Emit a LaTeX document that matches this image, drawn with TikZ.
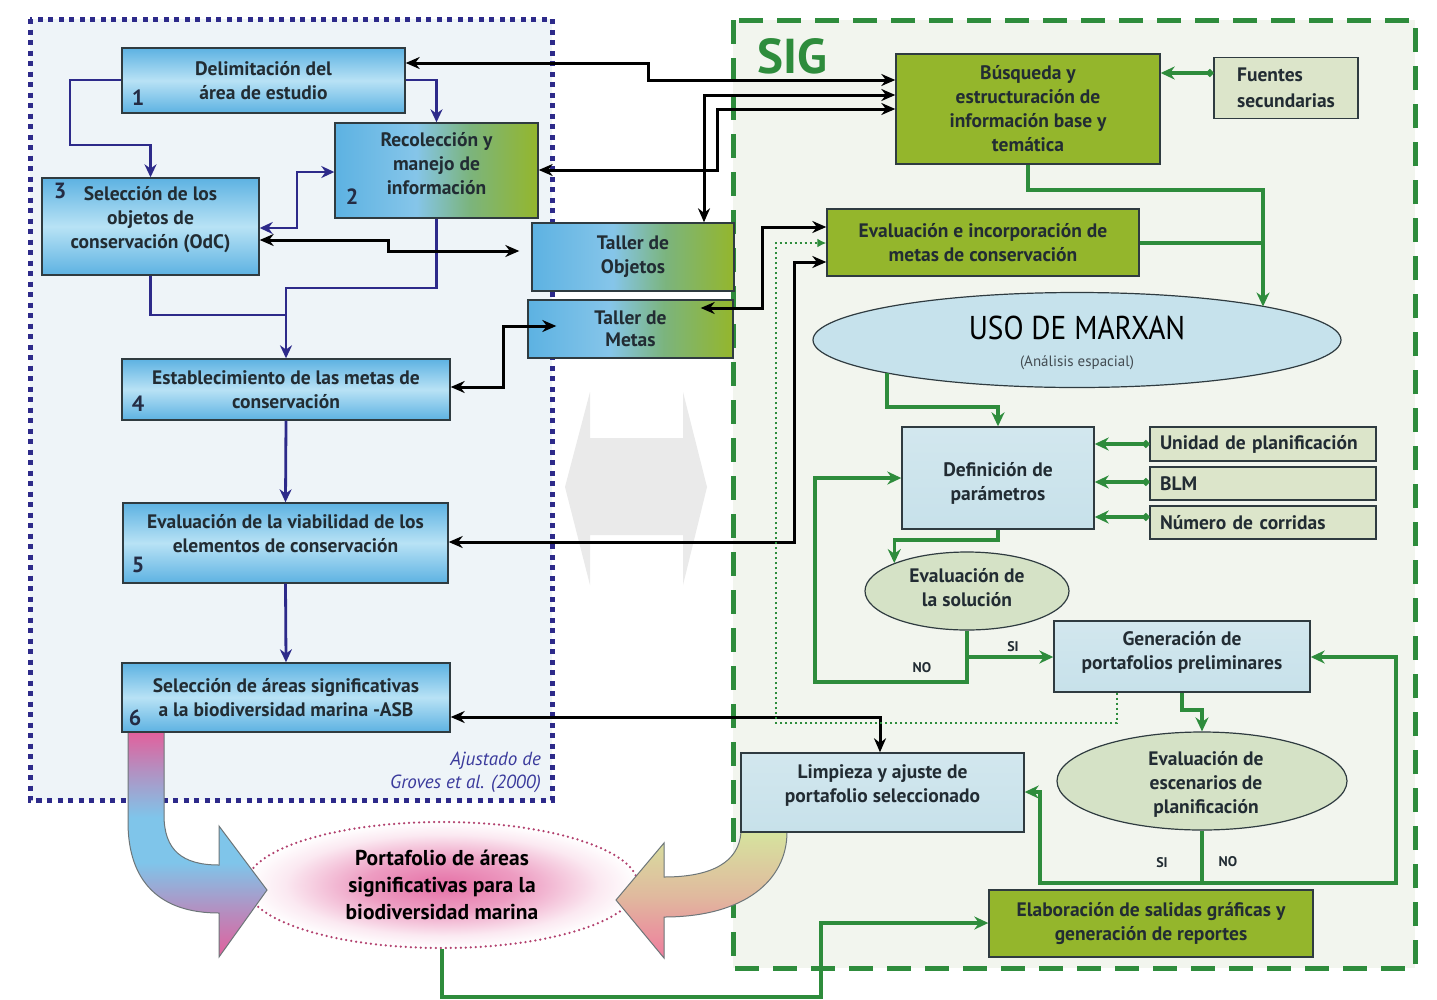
\documentclass[tikz,border=0pt]{standalone}
\usepackage{fontspec}
\setmainfont{PT Sans}
\newfontfamily\narrowfont{PT Sans}[FakeStretch=0.89]
\usetikzlibrary{arrows.meta,shapes.geometric,calc}

\definecolor{navy}{HTML}{2D2A8A}
\definecolor{leftbg}{HTML}{EEF4F8}
\definecolor{rightbg}{HTML}{F2F5EE}
\definecolor{siggreen}{HTML}{2E8C3C}
\definecolor{olive}{HTML}{94B62C}
\definecolor{boxblue}{HTML}{5DB2E2}
\definecolor{boxbluehi}{HTML}{B8E2F5}
\definecolor{paleblue}{HTML}{C7E1EA}
\definecolor{usoblue}{HTML}{C6E2EC}
\definecolor{palegreen}{HTML}{DCE5CA}
\definecolor{ellgreen}{HTML}{D5E2C6}
\definecolor{ink}{HTML}{222C33}
\definecolor{edge}{HTML}{2F3B40}
\definecolor{pinkc}{HTML}{E2609C}
\definecolor{arrowblue}{HTML}{7FC5EA}
\definecolor{limegreen}{HTML}{D6E39E}
\definecolor{rosy}{HTML}{EF7C9E}
\definecolor{ghost}{HTML}{EAEAEA}
\definecolor{citeblue}{HTML}{3A3A9C}
\definecolor{dotpink}{HTML}{B2406E}

% shadings: blue-to-green boxes, the two big curved arrows, the pink glow
\pgfdeclarehorizontalshading{bluegreen}{100bp}{color(0bp)=(boxblue); color(25bp)=(boxblue); color(45bp)=(boxblue!75!white); color(58bp)=(boxblue!45!olive); color(75bp)=(olive); color(100bp)=(olive)}
\pgfdeclareverticalshading{shadeL}{100bp}{color(0bp)=(pinkc); color(25bp)=(pinkc); color(35bp)=(pinkc!55!arrowblue); color(46bp)=(arrowblue); color(56bp)=(arrowblue); color(66bp)=(pinkc!50!arrowblue); color(75bp)=(pinkc); color(100bp)=(pinkc)}
\pgfdeclareverticalshading{shadeR}{100bp}{color(0bp)=(rosy); color(25bp)=(rosy); color(50bp)=(limegreen!60!rosy); color(75bp)=(limegreen); color(100bp)=(limegreen)}
\pgfdeclareradialshading{pinkglow}{\pgfpoint{0bp}{0bp}}{color(0bp)=(pinkc!90); color(10bp)=(pinkc!62); color(20bp)=(pinkc!14); color(25bp)=(white); color(50bp)=(white)}

\tikzset{
  boxtext/.style={font=\fontsize{19.5}{24}\selectfont\bfseries, text=ink, align=center, inner sep=0pt},
  bluebox/.style={boxtext, draw=edge, line width=1.4pt, top color=boxblue, bottom color=boxblue, middle color=boxbluehi},
  mixbox/.style={boxtext, draw=edge, line width=1.4pt, shading=bluegreen},
  olivebox/.style={boxtext, draw=edge, line width=1.4pt, fill=olive},
  palebox/.style={boxtext, draw=edge, line width=1.4pt, top color=paleblue!80!white, bottom color=paleblue},
  tagbox/.style={boxtext, draw=edge, line width=1.4pt, fill=palegreen, align=left},
  greenoval/.style={boxtext, ellipse, draw=edge, line width=1.2pt, fill=ellgreen},
  num/.style={font=\fontsize{22}{22}\selectfont\bfseries, text=ink!80!navy, inner sep=0pt},
  lbl/.style={font=\fontsize{14}{14}\selectfont\bfseries, text=ink, inner sep=0pt},
  cite/.style={font=\fontsize{19}{19}\selectfont\itshape, text=citeblue, inner sep=0pt},
  purpleline/.style={draw=navy, line width=2.8pt},
  blackline/.style={draw=black, line width=3pt},
  greenline/.style={draw=siggreen, line width=3.4pt},
  ptip/.style={-{Stealth[length=13pt,width=12pt]}},
  pboth/.style={arrows={{Stealth[length=13pt,width=12pt]}-{Stealth[length=13pt,width=12pt]}}},
  kboth/.style={arrows={{Stealth[length=14pt,width=12pt]}-{Stealth[length=14pt,width=12pt]}}},
  gtip/.style={-{Stealth[length=14pt,width=13pt]}},
  gdot/.style={arrows={{Circle[length=7pt]}-{Stealth[length=14pt,width=13pt]}}},
}

\begin{document}
\begin{tikzpicture}[x=1pt,y=-1pt]
\useasboundingbox (0,0) rectangle (1437,999);
\fill[white] (0,0) rectangle (1437,999);

% region backgrounds
\fill[leftbg] (30,19) rectangle (552,800);
\fill[rightbg] (733,20) rectangle (1415,968);

% faint double arrow between the two regions
\fill[ghost] (565,487) -- (590,392) -- (590,438) -- (683,438) -- (683,392) -- (707,487)
  -- (683,585) -- (683,535) -- (590,535) -- (590,585) -- cycle;

% region frames
\draw[navy, line width=5pt, dash pattern=on 5pt off 5.5pt] (30,19) rectangle (552,800);
\draw[siggreen, line width=5pt, dash pattern=on 24pt off 14pt] (733,20) rectangle (1415,968);
\node[font=\fontsize{49}{49}\selectfont\bfseries, text=siggreen, inner sep=0pt] (sig) at (792,56) {SIG};

% final portfolio
\node[ellipse, minimum width=392, minimum height=126, shading=pinkglow, draw=dotpink,
      line width=2.5pt, line cap=round, dash pattern=on 0pt off 5pt, inner sep=0pt,
      font=\fontsize{21.5}{27}\selectfont\bfseries, text=black, align=center]
  (por) at (442,885) {Portafolio de áreas\\significativas para la\\biodiversidad marina};

% big curved arrows into the portfolio
\path[draw=edge!70, line width=1pt, shading=shadeL]
  (128,732) -- (128,822) .. controls (128,882) and (160,913) .. (219,913) -- (219,957)
  -- (267,890) -- (219,826) -- (219,865) .. controls (182,865) and (164,850) .. (164,815)
  -- (164,732) -- cycle;
\path[draw=edge!70, line width=1pt, shading=shadeR]
  (741,832) .. controls (739,862) and (712,877) .. (664,877) -- (664,843) -- (616,900)
  -- (664,958) -- (664,917) .. controls (745,917) and (787,880) .. (787,832) -- cycle;

% left-hand process (Groves et al.)
\node[bluebox, minimum width=283, minimum height=65] (b1) at (263.5,80.5) {Delimitación del\\área de estudio};
\node[mixbox, minimum width=203, minimum height=95] (b2) at (436.5,170.5) {};
\node[boxtext] (b2t) at (436.5,164) {Recolección y\\manejo de\\información};
\node[bluebox, minimum width=217, minimum height=97] (b3) at (150.5,226.5) {};
\node[boxtext] (b3t) at (150.5,220) {Selección de los\\objetos de\\conservación (OdC)};
\node[bluebox, minimum width=328, minimum height=61] (b4) at (286,389.5) {Establecimiento de las metas de\\conservación};
\node[bluebox, minimum width=325, minimum height=80] (b5) at (285.5,543) {};
\node[boxtext] (b5t) at (285.5,534) {Evaluación de la viabilidad de los\\elementos de conservación};
\node[bluebox, minimum width=328, minimum height=69] (b6) at (286,697.5) {Selección de áreas significativas\\a la biodiversidad marina -ASB};
\node[num] (n1) at (138,98) {1};
\node[num] (n2) at (352,197) {2};
\node[num] (n3) at (60,191) {3};
\node[num] (n4) at (138,404) {4};
\node[num] (n5) at (138,565) {5};
\node[num] (n6) at (135,718) {6};
\node[cite, anchor=east] (citeA) at (541,761) {Ajustado de};
\node[cite, anchor=east] (citeB) at (541,784) {Groves et al. (2000)};

% workshops
\node[mixbox, minimum width=202, minimum height=68] (tob) at (633,257) {Taller de\\Objetos};
\node[mixbox, minimum width=205, minimum height=58, font=\fontsize{19.5}{22}\selectfont\bfseries] (tme) at (630.5,329) {Taller de\\Metas};

% GIS side
\node[olivebox, minimum width=264, minimum height=110] (bus) at (1028,109) {Búsqueda y\\estructuración de\\información base y\\temática};
\node[tagbox, minimum width=144, minimum height=61, font=\fontsize{19.5}{26}\selectfont\bfseries] (fue) at (1286,88) {Fuentes\\secundarias};
\node[olivebox, minimum width=312, minimum height=67] (evi) at (983,242.5) {Evaluación e incorporación de\\metas de conservación};
\node[ellipse, draw=edge, line width=1.2pt, fill=usoblue, minimum width=528, minimum height=95, inner sep=0pt] (uso) at (1077,340) {};
\node[font=\narrowfont\fontsize{33}{33}\selectfont, text=black, inner sep=0pt] (usotitle) at (1077,328) {USO DE MARXAN};
\node[font=\fontsize{15}{15}\selectfont, text=ink!85, inner sep=0pt] (usosub) at (1077,363) {(Análisis espacial)};
\node[palebox, minimum width=192, minimum height=102] (def) at (998,478) {};
\node[boxtext] (deft) at (998,483.5) {Definición de\\parámetros};
\node[tagbox, minimum width=226, minimum height=34, text width=206] (uni) at (1263,444) {Unidad de planificación};
\node[tagbox, minimum width=226, minimum height=33, text width=206] (blm) at (1263,483.5) {BLM};
\node[tagbox, minimum width=226, minimum height=33, text width=206] (num) at (1263,522.5) {Número de corridas};
\node[greenoval, minimum width=204, minimum height=78] (sol) at (967,591) {};
\node[boxtext] (solt) at (967,588) {Evaluación de\\la solución};
\node[palebox, minimum width=256, minimum height=71] (gen) at (1182,656.5) {};
\node[boxtext] (gent) at (1182,652.5) {Generación de\\portafolios preliminares};
\node[greenoval, minimum width=290, minimum height=98] (esc) at (1202,781) {};
\node[boxtext] (esct) at (1206,784) {Evaluación de\\escenarios de\\planificación};
\node[palebox, minimum width=283, minimum height=79] (lim) at (882.5,792.5) {};
\node[boxtext] (limt) at (882.5,785.5) {Limpieza y ajuste de\\portafolio seleccionado};
\node[olivebox, minimum width=324, minimum height=67] (ela) at (1151,923.5) {Elaboración de salidas gráficas y\\generación de reportes};

% connectors of the left-hand process
\draw[purpleline, ptip] (b1.west|-0,80) -- (70,80) -- (70,145) -| (b3.north);
\draw[purpleline, ptip] (b1.east|-0,80) -| (b2.north);
\draw[purpleline, pboth] (b2.west|-0,172) -- (297,172) -- (297,228) -- (b3.east|-0,228);
\draw[purpleline] (b3.south) |- (286,315);
\draw[purpleline, ptip] (b2.south) |- (286,288) -- (b4.north);
\draw[purpleline, ptip] (b4.south) -- (b5.north);
\draw[purpleline, ptip] (b5.south) -- (b6.north);

% exchanges between both sides
\draw[blackline, kboth] (b1.east|-0,63) -- (648,63) -- (648,80) -- (bus.west|-0,80);
\draw[blackline, kboth] (704,0|-tob.north) -- (704,95) -- (bus.west|-0,95);
\draw[blackline, kboth] (b2.east|-0,170) -- (717,170) -- (717,109) -- (bus.west|-0,109);
\draw[blackline, kboth, shorten >=12pt] (b3.east|-0,240) -- (388,240) -- (388,251) -- (tob.west|-0,251);
\draw[blackline, kboth] (b4.east|-0,387) -- (503,387) -- (503,326) -- ($(tme.west|-0,326)+(29,0)$);
\draw[blackline, kboth] ($(tme.east|-0,308)+(-33,0)$) -- (762,308) -- (762,227) -- (evi.west|-0,227);
\draw[blackline, kboth] (b5.east|-0,542) -- (794,542) -- (794,262) -- (evi.west|-0,262);
\draw[blackline, kboth] (b6.east|-0,717) -- (880,717) -- (880,0|-lim.north);

% feedback from the preliminary portfolios
\draw[siggreen, line width=2pt, dash pattern=on 2pt off 3pt, -{Latex[length=9pt,width=9pt]}]
  (1117,0|-gen.south) -- (1117,723) -- (776,723) -- (776,243) -- (evi.west|-0,243);

% GIS workflow
\draw[greenline, gdot] (fue.west|-0,73) -- (bus.east|-0,73);
\draw[greenline, gtip] (bus.south) -- (1028,190) -- (1263,190) -- (1263,0|-uso.10);
\draw[greenline] (evi.east|-0,243) -- (1263,243);
\draw[greenline, gtip] (uso.190) |- (998,407) -- (def.north);
\draw[greenline, gdot] (uni.west) -- (def.east|-uni.west);
\draw[greenline, gdot] (blm.west|-0,482) -- (def.east|-0,482);
\draw[greenline, gdot] (num.west|-0,517) -- (def.east|-0,517);
\draw[greenline, gtip] (def.south) -- (998,540) -| (sol.159);
\draw[greenline, gtip] (sol.south) -- (967,682) -- (815,682) -- (815,478) -- (def.west|-0,478);
\coordinate (sifork) at (967,657);
\draw[greenline, gtip] (sifork) -- (gen.west|-sifork);
\draw[greenline, gtip] (gen.south) -- (1182,710) -| (esc.north);
\coordinate (escfork) at (1202,883);
\draw[greenline] (esc.south) -- (escfork);
\draw[greenline, gtip] (escfork) -- (1040,883) -- (1040,792) -- (lim.east|-0,792);
\draw[greenline, gtip] (escfork) -- (1396,883) -- (1396,657) -- (gen.east|-0,657);
\draw[greenline, gtip] (por.south) -- (442,997) -- (821,997) -- (821,923) -- (ela.west|-0,923);

% decision labels
\node[lbl] (siA) at (1013,647) {SI};
\node[lbl] (noA) at (922,668) {NO};
\node[lbl] (siB) at (1162,863) {SI};
\node[lbl] (noB) at (1228,862) {NO};
\end{tikzpicture}
\end{document}
